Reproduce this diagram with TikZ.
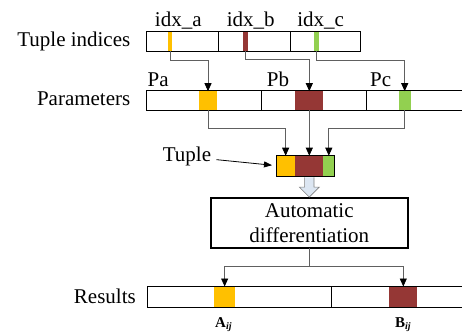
\documentclass[tikz,border=0pt]{standalone}
\usepackage{fontspec}
\setmainfont{Liberation Serif}
\usetikzlibrary{arrows.meta}
\definecolor{cY}{HTML}{FFC000}
\definecolor{cB}{HTML}{953735}
\definecolor{cG}{HTML}{92D050}
\definecolor{cL}{HTML}{606060}
\definecolor{cA}{HTML}{DCE6F2}
\begin{document}
\begin{tikzpicture}[x=1pt,y=-1pt,
  cell/.style={draw=black, line width=0.9pt, fill=white, anchor=north west, inner sep=0pt, outer sep=0pt},
  stripe/.style={anchor=north west, inner sep=0pt, outer sep=0pt},
  lbl/.style={font=\fontsize{21}{25}\selectfont, inner sep=0pt},
  conn/.style={draw=cL, line width=0.8pt, -{Triangle[length=8pt,width=7pt,color=black]}},
  hollow/.style={draw=cL!80, line width=0.6pt, fill=cA}
]
\useasboundingbox (0,0) rectangle (462,333);

% Tuple indices bar
\node[cell, minimum width=72pt, minimum height=20.4pt] (t1) at (146.7,31.3) {};
\node[cell, minimum width=71.3pt, minimum height=20.4pt] (t2) at (218.7,31.3) {};
\node[cell, minimum width=70.7pt, minimum height=20.4pt] (t3) at (290,31.3) {};
\node[stripe, fill=cY, minimum width=4.6pt, minimum height=19.4pt] (ta) at (167.7,31.8) {};
\node[stripe, fill=cB, minimum width=5.3pt, minimum height=19.4pt] (tb) at (242.7,31.8) {};
\node[stripe, fill=cG, minimum width=5.3pt, minimum height=19.4pt] (tc) at (314,31.8) {};

% Parameters bar
\node[cell, minimum width=114.6pt, minimum height=20pt] (p1) at (146.7,90.7) {};
\node[cell, minimum width=105.4pt, minimum height=20pt] (p2) at (261.3,90.7) {};
\node[cell, minimum width=103.3pt, minimum height=20pt] (p3) at (366.7,90.7) {};
\node[stripe, fill=cY, minimum width=18.6pt, minimum height=19pt] (pa) at (198.7,91.2) {};
\node[stripe, fill=cB, minimum width=28pt, minimum height=19pt] (pb) at (295.3,91.2) {};
\node[stripe, fill=cG, minimum width=12pt, minimum height=19pt] (pc) at (398.7,91.2) {};

% Tuple
\node[stripe, fill=cY, minimum width=19.3pt, minimum height=21pt] (tu1) at (276,155.7) {};
\node[stripe, fill=cB, minimum width=28pt, minimum height=21pt] (tu2) at (295.3,155.7) {};
\node[stripe, fill=cG, minimum width=11pt, minimum height=21pt] (tu3) at (323.3,155.7) {};
\node[stripe, draw=black, line width=0.9pt, minimum width=58.3pt, minimum height=21pt] (tup) at (276,155.7) {};

% Results bar
\node[cell, minimum width=184.4pt, minimum height=21.3pt] (r1) at (147.3,286) {};
\node[cell, minimum width=138.3pt, minimum height=21.3pt] (r2) at (331.7,286) {};
\node[stripe, fill=cY, minimum width=20.7pt, minimum height=20.3pt] (ra) at (214.3,286.5) {};
\node[stripe, fill=cB, minimum width=28pt, minimum height=20.3pt] (rb) at (389.3,286.5) {};

% Automatic differentiation box
\node[draw=black, line width=1.8pt, inner sep=0pt, outer sep=0pt, minimum width=197.3pt, minimum height=50.3pt,
      align=center, font=\fontsize{21}{25}\selectfont] (ad) at (309.3,223.2) {Automatic\\differentiation};

% Labels
\node[lbl, anchor=base east] (lti) at (130.5,46) {Tuple indices};
\node[lbl, anchor=base east] (lpar) at (130.5,105) {Parameters};
\node[lbl, anchor=base east] (lres) at (136,303) {Results};
\node[lbl, anchor=base] (ia) at (178.3,26.5) {idx\_a};
\node[lbl, anchor=base] (ib) at (250.7,26.5) {idx\_b};
\node[lbl, anchor=base] (ic) at (320.7,26.5) {idx\_c};
\node[lbl, anchor=base west] (lpa) at (147.5,86) {Pa};
\node[lbl, anchor=base west] (lpb) at (266.7,86) {Pb};
\node[lbl, anchor=base west] (lpc) at (370,86) {Pc};
\node[lbl, anchor=base west] (ltu) at (162.7,161.7) {Tuple};
\node[inner sep=0pt, anchor=base west, font=\fontsize{15}{15}\selectfont] (la) at (215,327)
  {\bfseries A\raisebox{-2.5pt}{\fontsize{10}{10}\selectfont\itshape ij}};
\node[inner sep=0pt, anchor=base west, font=\fontsize{15}{15}\selectfont] (lb) at (395,327)
  {\bfseries B\raisebox{-2.5pt}{\fontsize{10}{10}\selectfont\itshape ij}};

% Connectors: indices -> parameters
\draw[conn] (ta.south) -- ++(0,9) -| (pa.north);
\draw[conn] (tb.south) -- ++(0,8) -| (pb.north);
\draw[conn] (tc.south) -- ++(0,9) -| (pc.north);

% parameters -> tuple
\draw[conn] (pa.south) -- ++(0,18) -| (tu1.north);
\draw[conn] (pb.south) -- (tu2.north);
\draw[conn] (pc.south) -- ++(0,18) -| (tu3.north);

% Tuple label arrow
\draw[line width=0.8pt, -{Triangle[length=8pt,width=6pt]}] ([xshift=5pt,yshift=-3pt]ltu.east) -- ([xshift=-4pt,yshift=1pt]tup.west);

% hollow arrow tuple -> AD
\draw[hollow] ([xshift=-4.7pt,yshift=20.8pt]ad.north) -- ([xshift=-4.7pt,yshift=11pt]ad.north)
  -- ([xshift=-10pt,yshift=11pt]ad.north) -- ([yshift=1pt]ad.north)
  -- ([xshift=10pt,yshift=11pt]ad.north) -- ([xshift=4.7pt,yshift=11pt]ad.north)
  -- ([xshift=4.7pt,yshift=20.8pt]ad.north);

% AD -> results
\draw[conn] (ad.south) -- ++(0,18.4) -| (ra.north);
\draw[conn] (ad.south) -- ++(0,18.4) -| (rb.north);
\end{tikzpicture}
\end{document}
